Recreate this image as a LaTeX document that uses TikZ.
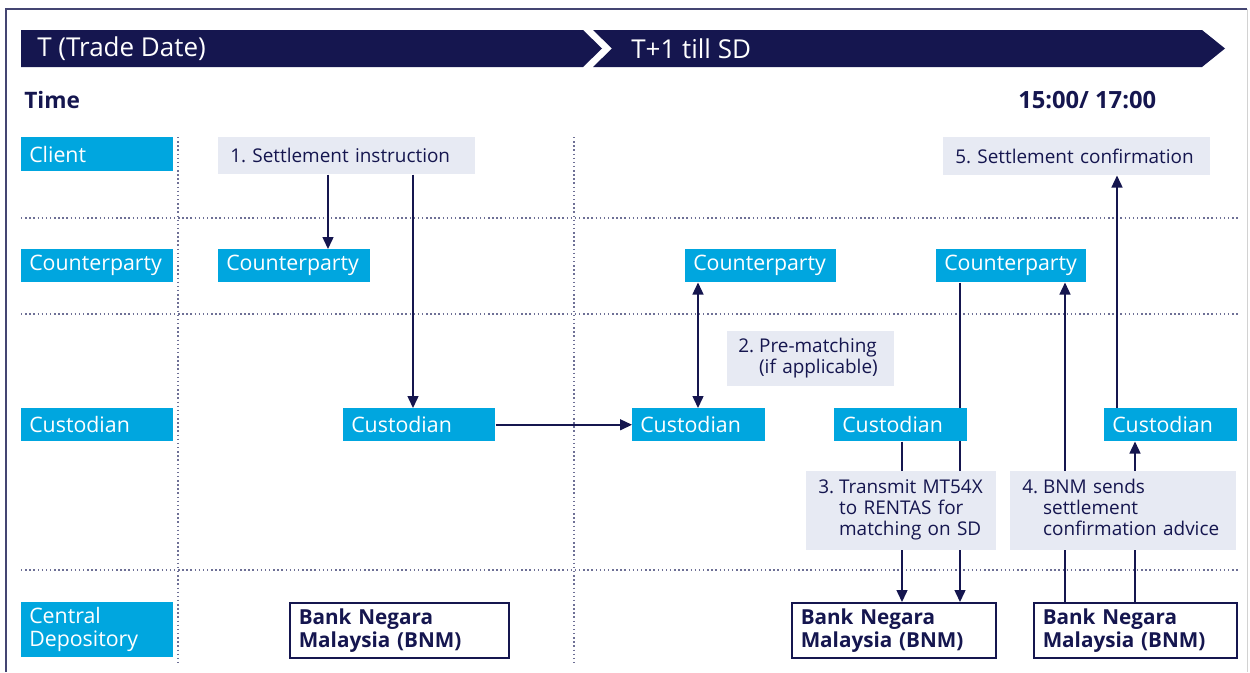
\documentclass[tikz,border=0pt]{standalone}
\usepackage{fontspec}
\setmainfont{Open Sans}
\usetikzlibrary{arrows.meta}
\definecolor{navy}{HTML}{15164F}
\definecolor{cyanb}{HTML}{00A6DF}
\definecolor{lightb}{HTML}{E7EAF3}
\definecolor{dotc}{HTML}{6E7096}
\newdimen\px \px=0.75pt
\newcommand\labfs{\fontsize{16}{17.2}\selectfont}
\newcommand\notefs{\fontsize{14.2}{15.75}\selectfont}
\pgfdeclarelayer{bg}
\pgfsetlayers{bg,main}
\begin{document}
\begin{tikzpicture}[x=0.75pt,y=-0.75pt,
  lab/.style={fill=cyanb, text=white, anchor=north west, inner xsep=8\px, inner ysep=0pt, align=left, font=\labfs},
  note/.style={fill=lightb, text=navy, anchor=north west, inner xsep=12\px, inner ysep=0pt, align=left, font=\notefs},
  bnm/.style={draw=navy, line width=1.5\px, fill=white, text=navy, anchor=north west, inner xsep=9\px, inner ysep=0pt, align=left, font=\fontsize{15.5}{17.4}\selectfont\bfseries},
  conn/.style={navy, line width=1.1pt},
  arr/.style={conn, -{Triangle[length=9pt,width=8.25pt]}},
  darr/.style={conn, {Triangle[length=9pt,width=8.25pt]}-{Triangle[length=9pt,width=8.25pt]}},
  dots/.style={dotc, line width=1pt, dash pattern=on 1.1pt off 2pt},
  head/.style={anchor=west, text=white, inner sep=0pt, font=\fontsize{19.5}{20}\selectfont},
  bold/.style={anchor=west, text=navy, inner sep=0pt, font=\fontsize{17}{18}\selectfont\bfseries}
]
\useasboundingbox (0,0) rectangle (1250,672);
% frame
\draw[navy!80, line width=1.5\px] (6,672) -- (6,9) -- (1247,9);
\draw[gray!35, line width=1\px] (1247,9) -- (1247,672);
% header bar
\fill[navy] (21,30) -- (583,30) -- (602,48.5) -- (583,67) -- (21,67) -- cycle;
\fill[navy] (593,30) -- (1202,30) -- (1225,48.5) -- (1202,67) -- (593,67) -- (612,48.5) -- cycle;
\node[head] (tdate) at (37,48.5) {T (Trade Date)};
\node[head] (tsd) at (631,48.5) {T+1 till SD};
\node[bold] (time) at (24,100) {Time};
\node[bold, font=\fontsize{17.8}{18}\selectfont\bfseries] (clock) at (1018,100) {15:00/ 17:00};
% row labels
\node[lab, text width=136\px, minimum height=34\px] (lclient) at (21,137) {Client};
\node[lab, text width=136\px, minimum height=33\px] (lcp) at (21,249) {Counterparty};
\node[lab, text width=136\px, minimum height=33\px] (lcus) at (21,408) {Custodian};
\node[lab, text width=136\px, minimum height=55\px] (lcd) at (21,602) {Central\\Depository};
% entity boxes
\node[lab, text width=136\px, minimum height=33\px] (cp1) at (218,249) {Counterparty};
\node[lab, text width=136\px, minimum height=33\px] (cus1) at (343,408) {Custodian};
\node[lab, text width=135\px, minimum height=33\px] (cp2) at (685,249) {Counterparty};
\node[lab, text width=117\px, minimum height=33\px] (cus2) at (632,408) {Custodian};
\node[lab, text width=134\px, minimum height=33\px] (cp3) at (936,249) {Counterparty};
\node[lab, text width=117\px, minimum height=33\px] (cus3) at (834,408) {Custodian};
\node[lab, text width=117\px, minimum height=33\px] (cus4) at (1104,408) {Custodian};
% notes
\node[note, text width=233\px, minimum height=37\px] (s1) at (218,137) {1.\ Settlement instruction};
\node[note, text width=243\px, minimum height=38\px] (s5) at (943,137) {\mbox{5.\ Settlement confirmation}};
\node[note, inner xsep=11\px, text width=145\px, minimum height=55\px] (s2) at (727,331)
  {\begin{tabular}{@{}l@{\hspace{5\px}}l@{}}2. & Pre-matching\\ & (if applicable)\end{tabular}};
\node[note, text width=166\px, minimum height=79\px] (s3) at (806,471)
  {\begin{tabular}{@{}l@{\hspace{5\px}}l@{}}3. & Transmit MT54X\\ & to RENTAS for\\ & matching on SD\end{tabular}};
\node[note, text width=202\px, minimum height=79\px] (s4) at (1010,471)
  {\begin{tabular}{@{}l@{\hspace{5\px}}l@{}}4. & BNM sends\\ & settlement\\ & confirmation advice\end{tabular}};
% BNM boxes
\node[bnm, text width=201\px, minimum height=55\px] (bnm1) at (289,602) {Bank Negara\\Malaysia (BNM)};
\node[bnm, text width=186\px, minimum height=55\px] (bnm2) at (791,602) {Bank Negara\\Malaysia (BNM)};
\node[bnm, text width=185\px, minimum height=55\px] (bnm3) at (1033,602) {Bank Negara\\Malaysia (BNM)};
% column coordinates
\coordinate (a1) at (328,0);
\coordinate (a2) at (413,0);
\coordinate (a3) at (698,0);
\coordinate (a4) at (902,0);
\coordinate (a5) at (960,0);
\coordinate (a6) at (1065,0);
\coordinate (a7) at (1135,0);
\coordinate (a8) at (1117,0);
\coordinate (hl) at (21,0);
\coordinate (hr) at (1240,0);
\coordinate (r1) at (0,218);
\coordinate (r2) at (0,314);
\coordinate (r3) at (0,570);
\coordinate (c1t) at (178,137);
\coordinate (c1b) at (178,662);
\coordinate (c2t) at (574,137);
\coordinate (c2b) at (574,662);
\begin{pgfonlayer}{bg}
\draw[dots] (hl |- r1) -- (hr |- r1);
\draw[dots] (hl |- r2) -- (hr |- r2);
\draw[dots] (hl |- r3) -- (hr |- r3);
\draw[dots] (c1t) -- (c1b);
\draw[dots] (c2t) -- (c2b);
\draw[arr] (s1.south -| a1) -- (cp1.north -| a1);
\draw[arr] (s1.south -| a2) -- (cus1.north -| a2);
\draw[arr] (cus1.east) -- (cus2.west);
\draw[darr] (cp2.south -| a3) -- (cus2.north -| a3);
\draw[arr] (cp3.south -| a5) -- (bnm2.north -| a5);
\draw[arr] (cus3.south -| a4) -- (bnm2.north -| a4);
\draw[arr] (bnm3.north -| a6) -- (cp3.south -| a6);
\draw[arr] (bnm3.north -| a7) -- (cus4.south -| a7);
\draw[arr] (cus4.north -| a8) -- (s5.south -| a8);
\end{pgfonlayer}
\end{tikzpicture}
\end{document}
